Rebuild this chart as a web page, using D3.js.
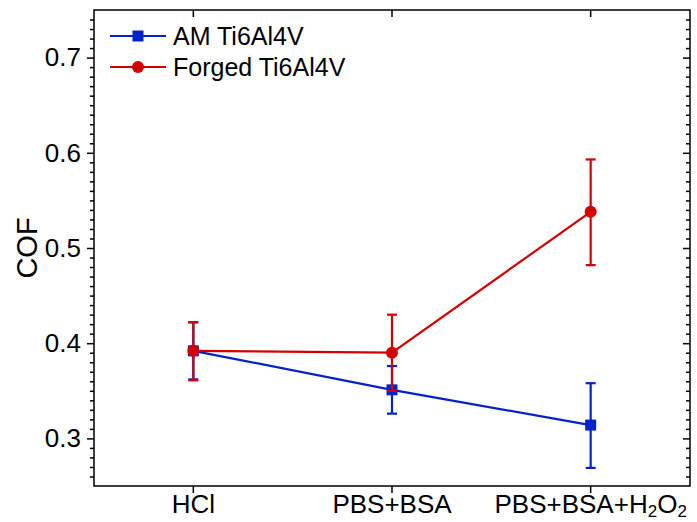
<!DOCTYPE html>
<html>
<head>
<meta charset="utf-8">
<script src="https://cdn.jsdelivr.net/npm/d3@7"></script>
<style>
  body { margin: 0; background: #fff; }
  svg { font-family: "Liberation Sans", Arial, sans-serif; }
</style>
</head>
<body>
<svg id="drawing_region"></svg>
<script>
// categories and series
const categories = ["HCl", "PBS+BSA", "PBS+BSA+H2O2"];
const series_names = ["AM Ti6Al4V", "Forged Ti6Al4V"];
const am_values = [0.392, 0.351, 0.314];
const am_err_hi = [0.422, 0.376, 0.358];
const am_err_lo = [0.362, 0.326, 0.269];
const forged_values = [0.392, 0.390, 0.538];
const forged_err_hi = [0.422, 0.430, 0.593];
const forged_err_lo = [0.361, 0.350, 0.482];
const y_ticks = [0.3, 0.4, 0.5, 0.6, 0.7];

const config = {
    width: 697,
    height: 522,
    margin: {top: 10, right: 7, bottom: 36, left: 94}
};
const colors = ["#0022cc", "#d40000"];

const svg = d3.select("#drawing_region")
    .attr("width", config.width)
    .attr("height", config.height);

const inner_width = config.width - config.margin.left - config.margin.right;
const inner_height = config.height - config.margin.top - config.margin.bottom;

const chart = svg.append("g")
    .attr("transform", `translate(${config.margin.left}, ${config.margin.top})`);

const xscale = d3.scaleBand()
    .domain(categories)
    .range([0, inner_width]);

const yscale = d3.scaleLinear()
    .domain([0.25, 0.75])
    .range([inner_height, 0]);

const xc = d => xscale(d) + xscale.bandwidth() / 2;

// minor ticks every 0.01
const minor = d3.range(26, 75).map(v => v / 100).filter(v => Math.round(v * 100) % 10 != 0);

// left axis
const yaxis = d3.axisLeft(yscale).tickValues(y_ticks).tickFormat(d3.format(".1f"))
    .tickSize(7).tickSizeOuter(0).tickPadding(6);
const yg = chart.append("g").call(yaxis);
yg.selectAll("text").attr("font-size", 26).attr("font-family", "Liberation Sans, Arial, sans-serif").attr("fill", "#000");
chart.append("g").call(d3.axisLeft(yscale).tickValues(minor).tickFormat("").tickSize(4).tickSizeOuter(0));

// right axis, ticks inward
chart.append("g").attr("transform", `translate(${inner_width},0)`)
    .call(d3.axisRight(yscale).tickValues(y_ticks).tickFormat("").tickSize(-7).tickSizeOuter(0));
chart.append("g").attr("transform", `translate(${inner_width},0)`)
    .call(d3.axisRight(yscale).tickValues(minor).tickFormat("").tickSize(-4).tickSizeOuter(0));

// bottom axis
const xg = chart.append("g").attr("transform", `translate(0,${inner_height})`)
    .call(d3.axisBottom(xscale).tickSize(7).tickSizeOuter(0).tickPadding(2));
xg.selectAll("text").attr("font-size", 26).attr("fill", "#000")
    .each(function(d) {
        if (d === "PBS+BSA+H2O2") {
            const t = d3.select(this).text("PBS+BSA+H");
            t.append("tspan").attr("font-size", 17).attr("dy", 4).text("2");
            t.append("tspan").attr("dy", -4).text("O");
            t.append("tspan").attr("font-size", 17).attr("dy", 4).text("2");
        }
    });

// top axis, ticks inward
chart.append("g")
    .call(d3.axisTop(xscale).tickFormat("").tickSize(-7).tickSizeOuter(0));

chart.selectAll(".domain").remove();
chart.selectAll(".tick line").attr("stroke", "#000").attr("stroke-width", 1.5);
chart.append("rect")
    .attr("width", inner_width).attr("height", inner_height)
    .attr("fill", "none").attr("stroke", "#000").attr("stroke-width", 1.5);

// y label
svg.append("text")
    .attr("transform", `translate(37, ${config.margin.top + yscale(0.5)}) rotate(-90)`)
    .attr("text-anchor", "middle")
    .attr("font-size", 29)
    .text("COF");

// series
const all_series = [
    {name: series_names[0], values: am_values, hi: am_err_hi, lo: am_err_lo, color: colors[0], shape: "square"},
    {name: series_names[1], values: forged_values, hi: forged_err_hi, lo: forged_err_lo, color: colors[1], shape: "circle"}
];

const line = d3.line().x(d => xc(d.cat)).y(d => yscale(d.v));

all_series.forEach(s => {
    const pts = categories.map((c, i) => ({cat: c, v: s.values[i], hi: s.hi[i], lo: s.lo[i]}));
    const g = chart.append("g");

    g.append("path").datum(pts)
        .attr("d", line).attr("fill", "none")
        .attr("stroke", s.color).attr("stroke-width", 2.2);

    pts.forEach(p => {
        const x = xc(p.cat);
        g.append("line").attr("x1", x).attr("x2", x)
            .attr("y1", yscale(p.hi)).attr("y2", yscale(p.lo))
            .attr("stroke", s.color).attr("stroke-width", 2.2);
        [p.hi, p.lo].forEach(v => {
            g.append("line").attr("x1", x - 5).attr("x2", x + 5)
                .attr("y1", yscale(v)).attr("y2", yscale(v))
                .attr("stroke", s.color).attr("stroke-width", 2.2);
        });
        if (s.shape === "square") {
            g.append("rect").attr("x", x - 5.5).attr("y", yscale(p.v) - 5.5)
                .attr("width", 11).attr("height", 11).attr("fill", s.color);
        } else {
            g.append("circle").attr("cx", x).attr("cy", yscale(p.v))
                .attr("r", 6).attr("fill", s.color);
        }
    });
});

// legend
const legend = chart.append("g").attr("transform", "translate(16, 26)");
all_series.forEach((s, i) => {
    const row = legend.append("g").attr("transform", `translate(0, ${i * 31})`);
    row.append("line").attr("x1", 0).attr("x2", 56).attr("stroke", s.color).attr("stroke-width", 2.2);
    if (s.shape === "square") {
        row.append("rect").attr("x", 22.5).attr("y", -5.5).attr("width", 11).attr("height", 11).attr("fill", s.color);
    } else {
        row.append("circle").attr("cx", 28).attr("r", 6).attr("fill", s.color);
    }
    row.append("text").attr("x", 63).attr("y", 9).attr("font-size", 25).text(s.name);
});
</script>
</body>
</html>
